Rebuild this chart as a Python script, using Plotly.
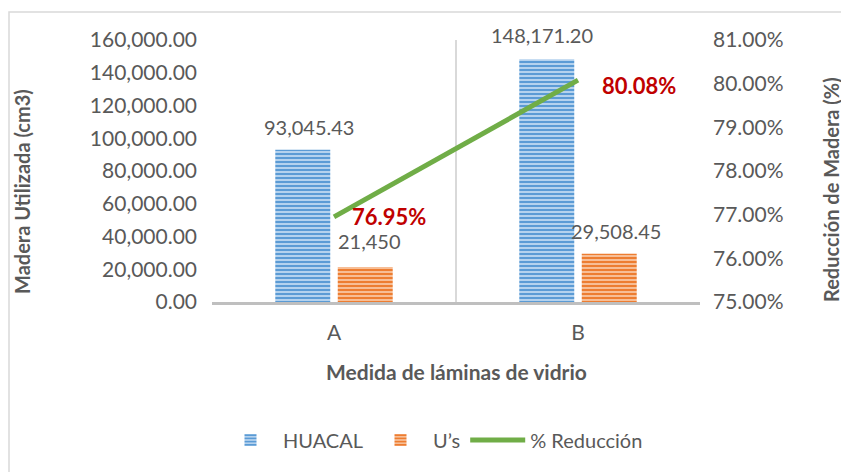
import plotly.graph_objects as go

categories = ["A", "B"]
huacal = [93045.43, 148171.20]
us = [21450, 29508.45]
reduccion = [0.7695, 0.8008]

huacal_labels = ["93,045.43", "148,171.20"]
us_labels = ["21,450", "29,508.45"]
red_labels = ["76.95%", "80.08%"]

FONT = "Lato"
GRAY = "#595959"

# page body has an 8px margin: figure is offset by (8, 8)
W, H = 841, 464
L, T = 204, 32
PW, PH = 488, 262
R = W - L - PW
B = H - T - PH

fig = go.Figure()
fig.add_trace(go.Bar(
    x=categories, y=huacal, name="HUACAL",
    marker=dict(color="#9dc3e6", line=dict(width=0),
                pattern=dict(shape="-", fgcolor="#5b9bd5", bgcolor="#b4d2ee",
                             size=4, solidity=0.5, fillmode="replace")),
))
fig.add_trace(go.Bar(
    x=categories, y=us, name="U’s",
    marker=dict(color="#f4b183", line=dict(width=0),
                pattern=dict(shape="-", fgcolor="#ed7d31", bgcolor="#f7be96",
                             size=4, solidity=0.5, fillmode="replace")),
))
fig.add_trace(go.Scatter(
    x=categories, y=reduccion, name="% Reducción", yaxis="y2",
    mode="lines", line=dict(color="#70ad47", width=5),
))

ann = []
bar_shifts = [(-25, 23), (-36, 24)]
us_shifts = [(35, 26), (38, 23)]
for i, c in enumerate(categories):
    ann.append(dict(x=c, y=huacal[i], xref="x", yref="y", text=huacal_labels[i],
                    showarrow=False, xshift=bar_shifts[i][0], yshift=bar_shifts[i][1],
                    yanchor="middle", font=dict(size=20, color=GRAY, family=FONT)))
    ann.append(dict(x=c, y=us[i], xref="x", yref="y", text=us_labels[i],
                    showarrow=False, xshift=us_shifts[i][0], yshift=us_shifts[i][1],
                    yanchor="middle", font=dict(size=20, color=GRAY, family=FONT)))
red_shifts = [(16, 0), (22, -5)]
for i, c in enumerate(categories):
    ann.append(dict(x=c, y=reduccion[i], xref="x", yref="y2", text="<b>" + red_labels[i] + "</b>",
                    showarrow=False, xanchor="left", yanchor="middle",
                    xshift=red_shifts[i][0], yshift=red_shifts[i][1],
                    font=dict(size=22, color="#c00000", family=FONT)))

# axis titles
ann.append(dict(x=(14 - L) / PW, y=(PH + T - 192 + 8) / PH, xref="paper", yref="paper",
                text="<b>Madera Utilizada (cm3)</b>", xanchor="center", yanchor="middle",
                textangle=-90, showarrow=False, font=dict(size=20, color=GRAY, family=FONT)))
ann.append(dict(x=(823 - L) / PW, y=(PH + T - 190 + 8) / PH, xref="paper", yref="paper",
                text="<b>Reducción de Madera (%)</b>", xanchor="center", yanchor="middle",
                textangle=-90, showarrow=False, font=dict(size=20, color=GRAY, family=FONT)))
ann.append(dict(x=0.5, y=(PH + T - 363) / PH, xref="paper", yref="paper",
                text="<b>Medida de láminas de vidrio</b>", xanchor="center", yanchor="middle",
                showarrow=False, font=dict(size=21, color=GRAY, family=FONT)))

fig.update_layout(
    width=W, height=H,
    margin=dict(l=L, r=R, t=T, b=B, pad=0),
    paper_bgcolor="white", plot_bgcolor="white",
    font=dict(family=FONT, size=21, color=GRAY),
    barmode="group", bargap=0.488, bargroupgap=0.12,
    xaxis=dict(range=[-0.5, 1.5], tickson="boundaries", showgrid=True,
               gridcolor="#d9d9d9", gridwidth=1.5, showline=True, linecolor="#bfbfbf",
               linewidth=3, ticks="", tickfont=dict(size=21, color=GRAY), ticklabelstandoff=10),
    yaxis=dict(range=[0, 160000], dtick=20000, tickformat=",.2f", showgrid=False,
               zeroline=False, showline=False, ticks="", ticklabelstandoff=14,
               tickfont=dict(size=21, color=GRAY)),
    yaxis2=dict(range=[0.75, 0.81], dtick=0.01, tickformat=".2%", overlaying="y",
                side="right", showgrid=False, zeroline=False, showline=False, ticks="",
                ticklabelstandoff=12, tickfont=dict(size=21, color=GRAY)),
    legend=dict(orientation="h", x=(425 - L) / PW, xanchor="center",
                y=(PH + T - 432) / PH, yanchor="middle",
                font=dict(size=20, color=GRAY, family=FONT), itemwidth=55),
    annotations=ann,
    shapes=[dict(type="rect", xref="paper", yref="paper",
                 x0=(1 - L) / PW, x1=(W + 20 - L) / PW,
                 y0=(PH + T - H - 20) / PH, y1=(PH + T - 4) / PH,
                 line=dict(color="#d9d9d9", width=1.5), layer="below")],
)

fig.write_html("out.html")
